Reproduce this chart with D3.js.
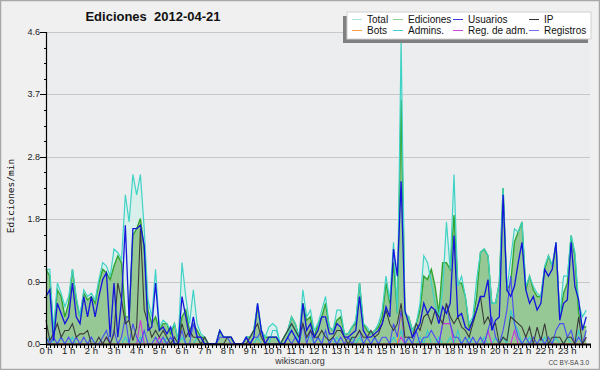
<!DOCTYPE html>
<html><head><meta charset="utf-8">
<script src="https://cdn.jsdelivr.net/npm/d3@7"></script>
<style>
html,body{margin:0;padding:0;background:#f0f0f0;}
svg{display:block;}
</style></head><body>
<svg id="chart" width="600" height="370"></svg>
<script>
const hours = d3.range(24).map(h => h + " h");
const yTickValues = [0, 0.92, 1.84, 2.76, 3.68, 4.6];
const yTickLabels = ["0.0", "0.9", "1.8", "2.8", "3.7", "4.6"];

const total = [1.1,1.1,0.2,0.9,0.75,0.55,0.7,1.1,0.7,0.4,
0.8,0.7,0.75,0.65,0.95,1.2,1.15,1.0,1.4,1.35,
1.25,2.2,1.8,2.5,2.2,2.5,1.7,0.65,0.4,1.1,
0.25,0.35,0.3,0.2,0.3,0.05,1.2,0.7,0.3,0.8,
0.3,0.15,0.1,0,0,0,0.2,0.1,0.1,0.1,
0,0,0,0.1,0.1,0.2,0.6,0.2,0.1,0.25,
0.3,0.25,0,0.1,0.2,0.4,0.3,0.1,0.8,0.4,
0.5,0.2,0.3,0.5,0.7,0.25,0.2,0.5,0.5,0.15,
0.15,0.25,0.35,0.9,0.3,0.25,0.15,0.2,0.3,0.5,
1.0,0.65,1.5,0.45,4.5,0.45,0.4,0.2,0.3,0.6,
1.3,1.2,0.9,0.6,0.4,0.8,1.8,1.1,2.5,0.85,
1.0,0.7,0.3,0.4,0.95,1.35,1.4,1.3,0.6,0.6,
0.9,2.3,0.8,1.25,1.7,1.65,1.8,0.85,1.0,0.85,
0.75,0.7,1.15,1.3,1.15,1.5,0.4,1.0,1.0,1.6,
1.35,0.6,0.4,0.5];

const ediciones = [1.1,1.0,0.15,0.8,0.7,0.4,0.6,1.1,0.65,0.4,
0.75,0.65,0.7,0.6,0.9,1.1,1.05,0.95,1.15,1.3,
1.2,0.4,0.4,1.6,1.7,1.85,1.4,0.5,0.3,0.4,
0.2,0.3,0.3,0.15,0.3,0.05,0.4,0.5,0.2,0.3,
0.2,0.1,0.1,0,0,0,0.2,0.1,0.1,0.1,
0,0,0,0.1,0.1,0.2,0.55,0.2,0.1,0.1,
0.1,0.1,0,0.1,0.2,0.4,0.3,0.1,0.6,0.35,
0.4,0.1,0.3,0.4,0.6,0.25,0.2,0.35,0.4,0.15,
0.15,0.25,0.3,0.9,0.3,0.2,0.15,0.2,0.25,0.4,
0.9,0.6,1.2,0.45,3.6,0.45,0.4,0.2,0.3,0.5,
1.0,0.95,1.1,0.85,0.45,1.2,1.2,1.1,1.9,0.9,
0.9,0.7,0.25,0.35,0.7,1.35,1.4,1.3,0.6,0.6,
0.9,2.3,0.8,0.9,1.5,1.65,1.8,0.8,1.0,0.8,
0.7,0.7,1.1,1.3,1.15,1.45,0.4,0.75,0.9,1.6,
1.3,0.45,0.25,0.25];

const usuarios = [0.7,0.8,0.05,0.6,0.45,0.3,0.4,0.9,0.4,0.3,
0.7,0.4,0.7,0.4,0.7,0.95,1.05,0.1,0.9,0.1,
0.65,1.75,0.35,1.7,1.7,1.75,1.45,0.2,0.25,0.9,
0.2,0.25,0.15,0.25,0,0,0.7,0.4,0.1,0.4,
0.1,0.1,0,0,0,0,0.2,0.1,0.1,0.1,
0,0,0,0.1,0,0.1,0.6,0.2,0,0.1,
0.1,0.1,0,0,0.1,0.2,0.1,0,0.6,0.2,
0.3,0.1,0.2,0.4,0.4,0.15,0.15,0.3,0.25,0.1,
0.1,0.15,0.2,0.7,0.2,0.1,0.1,0.15,0.2,0.3,
0.55,0.4,1.4,1.0,2.4,0.5,0.3,0.1,0.2,0.3,
0.6,0.45,0.55,0.5,0.3,0.55,0.45,0.6,1.6,0.4,
0.45,0.25,0.2,0.35,0.5,0.7,0.7,0.95,0.2,0.35,
0.4,2.2,0.8,0.7,0.85,1.2,1.5,0.8,0.6,0.7,
0.5,0.6,1.1,1.0,1.1,1.5,0.35,0.6,0.65,1.5,
0.85,0.65,0.2,0.4];

const ip = [0.35,0.05,0.15,0.3,0.1,0.2,0.2,0.3,0.1,0.15,
0.15,0.2,0,0,0.1,0,0.1,0,0.15,0.9,
0.65,0.3,0.35,0.05,0.25,1.7,0.5,0.3,0.1,0.2,
0.1,0.2,0.1,0,0.1,0,0.3,0.1,0.2,0.1,
0.1,0,0.1,0,0,0,0,0,0.1,0.1,
0,0,0,0,0.1,0.2,0.3,0.1,0,0,
0,0,0,0.1,0.2,0.3,0.2,0.1,0.3,0.1,
0.2,0.1,0.1,0.2,0.1,0.05,0.1,0.2,0.2,0.1,
0,0.1,0.1,0.2,0.1,0.1,0.2,0.1,0.15,0.3,
0.5,0.3,0.2,0.3,0.6,0.1,0.1,0.1,0.3,0.2,
0.4,0.45,0.3,0.5,0.4,0.3,0.6,0.4,0.3,0.4,
0.25,0.2,0.1,0.3,0.5,0.7,0.3,0.4,0.25,0.3,
0,0.1,0.05,0.4,0.35,0.3,0.25,0.1,0.25,0,
0.25,0.05,0.3,0,0.1,0.1,0.1,0,0.1,0.1,
0,0.4,0,0.1];

const registros = [0.1,0,0.1,0,0.1,0,0.1,0,0.1,0,
0.1,0,0.1,0,0,0.1,0.2,0,0.2,0,
0.1,0.4,0,0.3,0.1,0,0.2,0,0,0.1,
0,0.1,0,0.1,0,0,0.2,0,0,0.3,
0.1,0.1,0,0,0,0,0.1,0.1,0.1,0,
0,0,0,0.1,0,0.1,0.1,0.2,0,0,
0,0,0,0,0.1,0,0.1,0,0.3,0,
0.2,0,0.1,0,0.2,0,0.1,0,0.1,0,
0.1,0,0.1,0.2,0,0.1,0,0.1,0,0.1,
0.1,0,0.3,0.1,0.5,0,0.1,0,0.2,0,
0.1,0.1,0.2,0.1,0,0.3,0.6,0.3,0.1,0.1,
0,0.1,0,0.1,0,0.1,0,0.2,0.4,0.1,
0,0.2,0.5,1.0,0.3,0.1,0,0.1,0,0.1,
0,0.1,0,0.1,0,0.2,0.3,0.3,0.1,0.2,
0,0.1,0,0.2];

const admins = [0,0.1,0,0,0.1,0,0,0.1,0,0,
0,0,0.1,0,0,0,0.1,0,0,0,
0,0.1,0,0,0,0.1,0,0,0,0,
0,0,0.1,0,0,0,0.1,0,0,0,
0.1,0,0,0,0,0,0,0,0,0,
0,0,0,0,0,0,0.1,0,0,0,
0.2,0.2,0,0,0.1,0.3,0.2,0,0.3,0.1,
0.1,0,0.1,0,0.2,0,0,0.1,0,0,
0,0.1,0,0.1,0,0,0,0.1,0,0,
0,0,0.1,0,0.2,0,0.1,0,0,0.1,
0,0.2,0,0,0.1,0,0,0.1,0,0.2,
0,0,0.1,0,0,0,0.1,0,0,0.1,
0,0.1,0,0.5,0.3,0.2,0,0,0.1,0,
0,0,0.1,0,0,0.1,0,0,0.1,0,
0,0.2,0,0.1];

const botsIdx = [94];
const botsVal = [0.5];
const regAdmIdx = [16,25,30,94,105,106,107,117,124,143];
const regAdmVal = [0.1,0.35,0.1,0.1,0.3,0.3,0.3,0.2,0.2,0.1];

const legendNames = ["Total","Ediciones","Usuarios","IP","Bots","Admins.","Reg. de adm.","Registros"];
const legendColors = ["#a8e4dc","#8fd08f","#3b3bdc","#333333","#ffa040","#3fd0d0","#cc44dd","#7070ee"];

const N = total.length;
const sparse = (idx, val) => { const a = new Array(N).fill(0); idx.forEach((k,j)=>a[k]=val[j]); return a; };
const bots = sparse(botsIdx, botsVal);
const regAdm = sparse(regAdmIdx, regAdmVal);

const svg = d3.select("#chart");
const W = 600, H = 370;
const x0 = 46, x1 = 590, yTop = 32, yBot = 344;

svg.append("rect").attr("x",0.5).attr("y",0.5).attr("width",W-1).attr("height",H-1)
  .attr("fill","#f0f0f0").attr("stroke","#a8a8a8").attr("stroke-width",1.5);

const x = d3.scaleLinear().domain([0, N]).range([x0, x1]);
const y = d3.scaleLinear().domain([0, 4.6]).range([yBot, yTop]);

svg.append("rect").attr("x",x0).attr("y",yTop).attr("width",x1-x0).attr("height",yBot-yTop).attr("fill","#ecedef");

// grid
svg.append("g").selectAll("line").data(yTickValues.slice(1)).join("line")
  .attr("x1",x0).attr("x2",x1).attr("y1",d=>Math.round(y(d))+0.5).attr("y2",d=>Math.round(y(d))+0.5)
  .attr("stroke","#c8c8c8").attr("stroke-width",1);

const areaOf = arr => d3.area().x((d,i)=>x(i)).y0(y(0)).y1(d=>y(d));
const lineOf = arr => d3.line().x((d,i)=>x(i)).y(d=>y(d));

const g = svg.append("g");
g.append("path").datum(total).attr("d",areaOf()).attr("fill","#d6efea").attr("opacity",0.85);
g.append("path").datum(ediciones).attr("d",areaOf()).attr("fill","#96c896");
g.append("path").datum(ediciones).attr("d",lineOf()).attr("fill","none").attr("stroke","#30a530").attr("stroke-width",1.4);
g.append("path").datum(total).attr("d",lineOf()).attr("fill","none").attr("stroke","#3fd3c6").attr("stroke-width",1.2);

const lines = [
  [admins, "#33cccc", 1.1],
  [regAdm, "#cc33dd", 1.1],
  [bots, "#ff9933", 1.1],
  [registros, "#4b4bf5", 1.1],
  [ip, "#3a3a3a", 1.1],
  [usuarios, "#1414dc", 1.3]
];
lines.forEach(([arr,c,w]) => {
  g.append("path").datum(arr).attr("d",lineOf()).attr("fill","none").attr("stroke",c).attr("stroke-width",w);
});

// Y axis
const yAxisG = svg.append("g");
yAxisG.append("line").attr("x1",x0+0.5).attr("x2",x0+0.5).attr("y1",yTop).attr("y2",yBot).attr("stroke","#000").attr("stroke-width",1.2);
const minorY = d3.range(0, 21).map(k => k*0.23);
yAxisG.selectAll("line.minor").data(minorY).join("line").attr("class","minor")
  .attr("x1",x0-2).attr("x2",x0).attr("y1",d=>Math.round(y(d))+0.5).attr("y2",d=>Math.round(y(d))+0.5)
  .attr("stroke","#000");
yAxisG.selectAll("line.major").data(yTickValues).join("line").attr("class","major")
  .attr("x1",x0-6).attr("x2",x0).attr("y1",d=>Math.round(y(d))+0.5).attr("y2",d=>Math.round(y(d))+0.5)
  .attr("stroke","#000");
yAxisG.selectAll("text").data(yTickValues).join("text")
  .attr("x",x0-6).attr("y",d=>y(d)+3).attr("text-anchor","end")
  .attr("font-family","Liberation Sans, Arial, sans-serif").attr("font-size",9).attr("fill","#222")
  .text((d,i)=>yTickLabels[i]);

// X axis
const xAxisG = svg.append("g");
xAxisG.selectAll("line.tk").data(d3.range(0, N+1)).join("line").attr("class","tk")
  .attr("x1",d=>Math.round(x(d))+0.5).attr("x2",d=>Math.round(x(d))+0.5)
  .attr("y1",yBot).attr("y2",yBot+4).attr("stroke","#000").attr("stroke-width",1);
xAxisG.append("line").attr("x1",x0).attr("x2",x1+1).attr("y1",yBot+0.5).attr("y2",yBot+0.5).attr("stroke","#000").attr("stroke-width",2);
xAxisG.selectAll("text").data(hours).join("text")
  .attr("x",(d,i)=>x(i*6)).attr("y",yBot+10).attr("text-anchor","middle")
  .attr("font-family","Liberation Sans, Arial, sans-serif").attr("font-size",9.5).attr("fill","#222")
  .text(d=>d);

// Title
svg.append("text").attr("x",153).attr("y",21).attr("text-anchor","middle")
  .attr("font-family","Liberation Sans, Arial, sans-serif").attr("font-weight","bold").attr("font-size",13)
  .attr("fill","#111").attr("xml:space","preserve").style("white-space","pre").text("Ediciones  2012-04-21");

// Y label
svg.append("text").attr("transform","translate(14,196) rotate(-90)").attr("text-anchor","middle")
  .attr("font-family","DejaVu Sans Mono, monospace").attr("font-size",9.5).attr("fill","#111")
  .text("Ediciones/min");

// footer
svg.append("text").attr("x",300).attr("y",364).attr("text-anchor","middle")
  .attr("font-family","Liberation Sans, Arial, sans-serif").attr("font-size",9).attr("fill","#333").text("wikiscan.org");
svg.append("text").attr("x",589).attr("y",365).attr("text-anchor","end")
  .attr("font-family","Liberation Sans, Arial, sans-serif").attr("font-size",6.5).attr("fill","#444").text("CC BY-SA 3.0");

// Legend
const lg = svg.append("g");
lg.append("rect").attr("x",343).attr("y",16).attr("width",245).attr("height",27).attr("fill","#808080");
lg.append("rect").attr("x",347).attr("y",12).attr("width",244).attr("height",27).attr("fill","#ffffff").attr("stroke","#d0d0d0");
const colX = [352, 393, 453, 529];
const rowY = [19, 30];
const order = [[0,1,2,3],[4,5,6,7]];
order.forEach((row, r) => row.forEach((k, c) => {
  lg.append("line").attr("x1",colX[c]).attr("x2",colX[c]+10).attr("y1",rowY[r]+0.5).attr("y2",rowY[r]+0.5)
    .attr("stroke",legendColors[k]).attr("stroke-width",1);
  lg.append("text").attr("x",colX[c]+15).attr("y",rowY[r]+3.5)
    .attr("font-family","Liberation Sans, Arial, sans-serif").attr("font-size",10).attr("fill","#111")
    .text(legendNames[k]);
}));
</script>
</body></html>
